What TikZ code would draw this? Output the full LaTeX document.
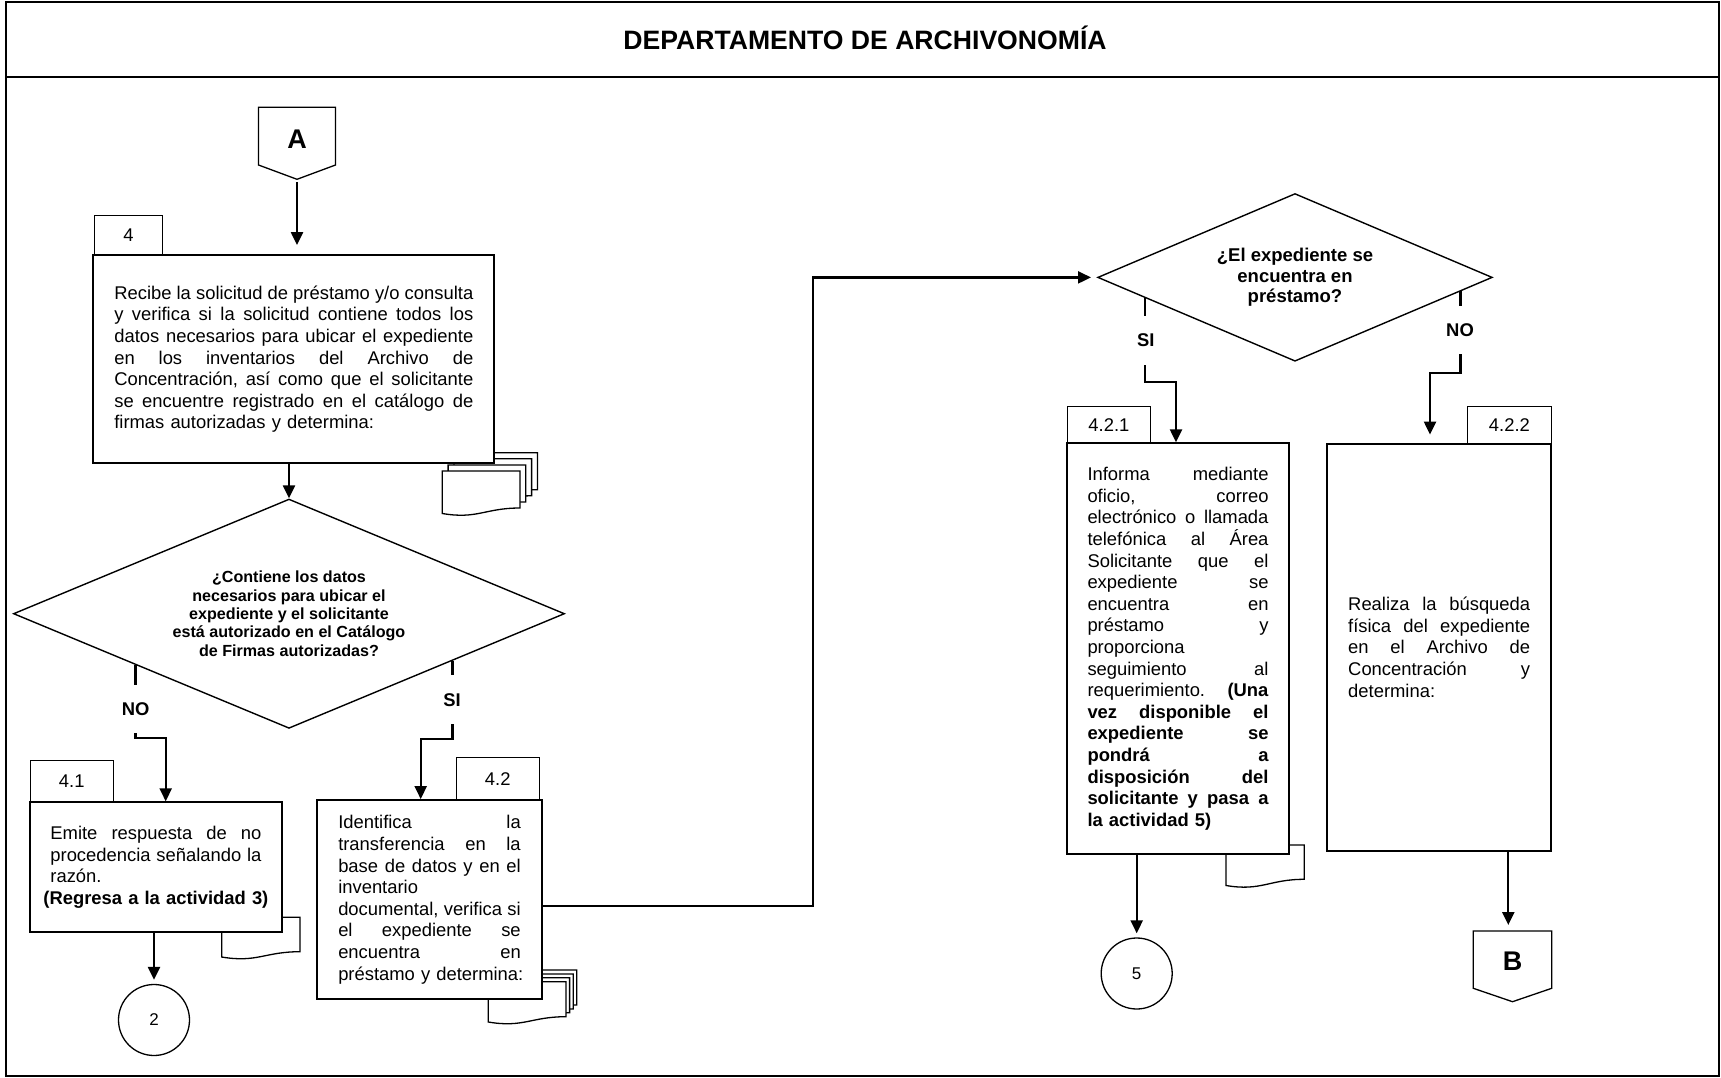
\documentclass[tikz,border=0pt]{standalone}
\usepackage{fontspec}
\setmainfont{Liberation Sans}
\usetikzlibrary{shapes.geometric,calc,arrows.meta}

% one justified line of a box text: the words are spread over the full width
\makeatletter
\def\jl@split#1 #2\@nil{#1\ifx\relax#2\relax\else\hfill\jl@split#2\@nil\fi}
\newcommand{\jline}[1]{\hbox to\hsize{\jl@split#1 \@nil}}
\makeatother
% one line set at its natural width (last line of a paragraph)
\newcommand{\rline}[1]{\hbox{#1}}
% one centred line
\newcommand{\centline}[1]{\hbox to\hsize{\hss#1\hss}}
% one document sheet with a wavy lower edge: left, top, right, lower-left y, lower-right y
\newcommand{\docpage}[5]{%
  \pgfmathsetmacro{\dw}{(#3)-(#1)}%
  \path[docsheet] ({#1},{#2}) -- ({#3},{#2}) -- ({#3},{#5})
    .. controls ({#3-0.45*\dw},{#5}) and ({#1+0.45*\dw},{#4+6}) .. ({#1},{#4}) -- cycle;}
% a stack of four sheets, shifted by (dx,-dy) each
\newcommand{\multidoc}[7]{%
  \foreach \pg in {3,2,1,0}{\docpage{#1+\pg*#6}{#2-\pg*#7}{#3+\pg*#6}{#4-\pg*#7}{#5-\pg*#7}}}

\begin{document}
\begin{tikzpicture}[x=1pt,y=-1pt,
  frame/.style={line width=2pt},
  actbox/.style={draw, line width=1.9pt, fill=white, inner sep=0pt,
    font=\fontsize{18.4}{21.6}\selectfont},
  tabbox/.style={draw, line width=1pt, fill=white, inner sep=0pt,
    font=\fontsize{18.4}{21.6}\selectfont},
  decision/.style={draw, diamond, line width=1.4pt, inner sep=0pt, align=center},
  conn/.style={line width=2.2pt},
  arr/.style={conn, -{Triangle[length=13pt,width=12pt]}},
  ynlabel/.style={inner sep=0pt, font=\bfseries\fontsize{18.4}{20}\selectfont},
  docsheet/.style={draw, line width=1.3pt, fill=white},
  offpage/.style={draw, line width=1.3pt, fill=white},
  endpoint/.style={draw, circle, line width=1.3pt, inner sep=0pt, minimum size=71pt,
    font=\fontsize{17}{20}\selectfont},
  letter/.style={inner sep=0pt, font=\bfseries\fontsize{27}{30}\selectfont}]

\useasboundingbox (0,0) rectangle (1721,1078);

% outer frame and header
\draw[frame] (5.5,2.5) rectangle (1718.5,1076);
\draw[frame] (5.5,77) -- (1718.5,77);
\node[anchor=base, font=\bfseries\fontsize{26.6}{30}\selectfont] (title) at (865,50)
  {DEPARTAMENTO DE ARCHIVONOMÍA};

% off-page connector A
\path[offpage] (258.5,107.3) -- (335.5,107.3) -- (335.5,165) -- (297,179.3) -- (258.5,165) -- cycle;
\node[letter] (A) at (297,139) {A};
\coordinate (Atip) at (297,179.3);

% document symbols behind the activity boxes
\multidoc{442.3}{471}{520}{513.5}{508}{5.8}{6.1}
\docpage{221.7}{917.3}{300}{957}{951.7}
\multidoc{488.3}{981.7}{566}{1022}{1016.7}{3.6}{3.9}
\docpage{1226}{845}{1304.3}{885.5}{879.3}

% activity number tabs
\node[tabbox, minimum width=68.4pt, minimum height=39.3pt] (t4) at (128.5,235.4) {4};
\node[tabbox, minimum width=83.3pt, minimum height=42.3pt] (t41) at (71.7,781.2) {4.1};
\node[tabbox, minimum width=83.3pt, minimum height=42.3pt] (t42) at (497.7,778.9) {4.2};
\node[tabbox, minimum width=82.3pt, minimum height=36.6pt] (t421) at (1108.9,425) {4.2.1};
\node[tabbox, minimum width=83.3pt, minimum height=36.6pt] (t422) at (1509.4,425) {4.2.2};

% activity 4
\node[actbox, minimum width=401pt, minimum height=208.3pt, text width=359pt] (b4) at (293.8,359.2) {%
  \jline{Recibe la solicitud de préstamo y/o consulta}
  \jline{y verifica si la solicitud contiene todos los}
  \jline{datos necesarios para ubicar el expediente}
  \jline{en los inventarios del Archivo de}
  \jline{Concentración, así como que el solicitante}
  \jline{se encuentre registrado en el catálogo de}
  \rline{firmas autorizadas y determina:}};

% first decision
\node[decision, aspect=2.403, minimum width=551.1pt, minimum height=229.3pt,
  font=\bfseries\fontsize{16.1}{18.3}\selectfont] (d1) at (289,613.7)
  {¿Contiene los datos\\necesarios para ubicar el\\expediente y el solicitante\\está autorizado en el Catálogo\\de Firmas autorizadas?};

% activity 4.1
\node[actbox, minimum width=251.7pt, minimum height=130pt, text width=211pt] (b41) at (155.9,867.3) {%
  \jline{Emite respuesta de no}
  \jline{procedencia señalando la}
  \rline{razón.}
  \centline{\bfseries (Regresa a la actividad 3)}};

% activity 4.2
\node[actbox, minimum width=224.4pt, minimum height=199.3pt, text width=182.5pt] (b42) at (429.5,899.7) {%
  \jline{Identifica la}
  \jline{transferencia en la}
  \jline{base de datos y en el}
  \rline{inventario}
  \jline{documental, verifica si}
  \jline{el expediente se}
  \jline{encuentra en}
  \rline{préstamo y determina:}};

% second decision
\node[decision, aspect=2.353, minimum width=394.6pt, minimum height=167.7pt,
  font=\bfseries\fontsize{18.5}{20.2}\selectfont] (d2) at (1295,277.4)
  {¿El expediente se\\encuentra en\\préstamo?};

% activity 4.2.1
\node[actbox, minimum width=222.6pt, minimum height=411pt, text width=181pt] (b421) at (1178,648.8) {%
  \jline{Informa mediante}
  \jline{oficio, correo}
  \jline{electrónico o llamada}
  \jline{telefónica al Área}
  \jline{Solicitante que el}
  \jline{expediente se}
  \jline{encuentra en}
  \jline{préstamo y}
  \rline{proporciona}
  \jline{seguimiento al}
  \jline{requerimiento. \textbf{(Una}}
  \jline{\bfseries vez disponible el}
  \jline{\bfseries expediente se}
  \jline{\bfseries pondrá a}
  \jline{\bfseries disposición del}
  \jline{\bfseries solicitante y pasa a}
  \rline{\bfseries la actividad 5)}};

% activity 4.2.2
\node[actbox, minimum width=224.3pt, minimum height=407.5pt, text width=182pt] (b422) at (1439.2,647.3) {%
  \jline{Realiza la búsqueda}
  \jline{física del expediente}
  \jline{en el Archivo de}
  \jline{Concentración y}
  \rline{determina:}};

% end points
\node[endpoint] (c2) at (154,1020) {2};
\node[endpoint] (c5) at (1136.7,973.5) {5};

% off-page connector B
\path[offpage] (1473.3,931) -- (1551.7,931) -- (1551.7,988.3) -- (1512.5,1001.7) -- (1473.3,988.3) -- cycle;
\node[letter] (B) at (1512.5,961) {B};
\coordinate (Btop) at (1508.3,931);

% branch labels
\node[ynlabel, minimum height=48pt] (no1) at (135.7,709) {NO};
\node[ynlabel, minimum height=49pt] (si1) at (452,699.7) {SI};
\node[ynlabel, minimum height=49pt] (si2) at (1145.7,340.5) {SI};
\node[ynlabel, minimum height=48pt] (no2) at (1460,330) {NO};

% points where the branches leave the diamonds
\coordinate (d1no) at ($(d1.west)!0.444!(d1.south)$);
\coordinate (d1si) at ($(d1.east)!0.408!(d1.south)$);
\coordinate (d2si) at ($(d2.west)!0.243!(d2.south)$);
\coordinate (d2no) at ($(d2.east)!0.164!(d2.south)$);

% bends
\coordinate (k1) at (165.7,737.7);
\coordinate (k2) at (420.7,739);
\coordinate (k3) at (1176,381.7);
\coordinate (k4) at (1430,372.7);
\coordinate (k5) at (813,906);

% connectors
\draw[arr, shorten <=3pt, shorten >=9pt] (Atip) -- (Atip |- b4.north);
\draw[arr] (b4.south -| d1.north) -- (d1.north);

\draw[conn] (d1no) -- (d1no |- no1.north);
\draw[arr] (no1.south -| d1no) |- (k1) -- (k1 |- b41.north);
\draw[conn] (d1si) -- (d1si |- si1.north);
\draw[arr] (si1.south -| d1si) |- (k2) -- (k2 |- b42.north);

\draw[arr, shorten >=4pt] (b41.south -| c2.north) -- (c2.north);
\draw[arr, shorten >=6pt] (b42.east |- k5) -- (k5) |- (d2.west);

\draw[conn] (d2si) -- (d2si |- si2.north);
\draw[arr] (si2.south -| d2si) |- (k3) -- (k3 |- b421.north);
\draw[conn] (d2no) -- (d2no |- no2.north);
\draw[arr, shorten >=8pt] (no2.south -| d2no) |- (k4) -- (k4 |- b422.north);

\draw[arr, shorten >=4pt] (b421.south -| c5.north) -- (c5.north);
\draw[arr, shorten >=6pt] (b422.south -| Btop) -- (Btop);

\end{tikzpicture}
\end{document}
